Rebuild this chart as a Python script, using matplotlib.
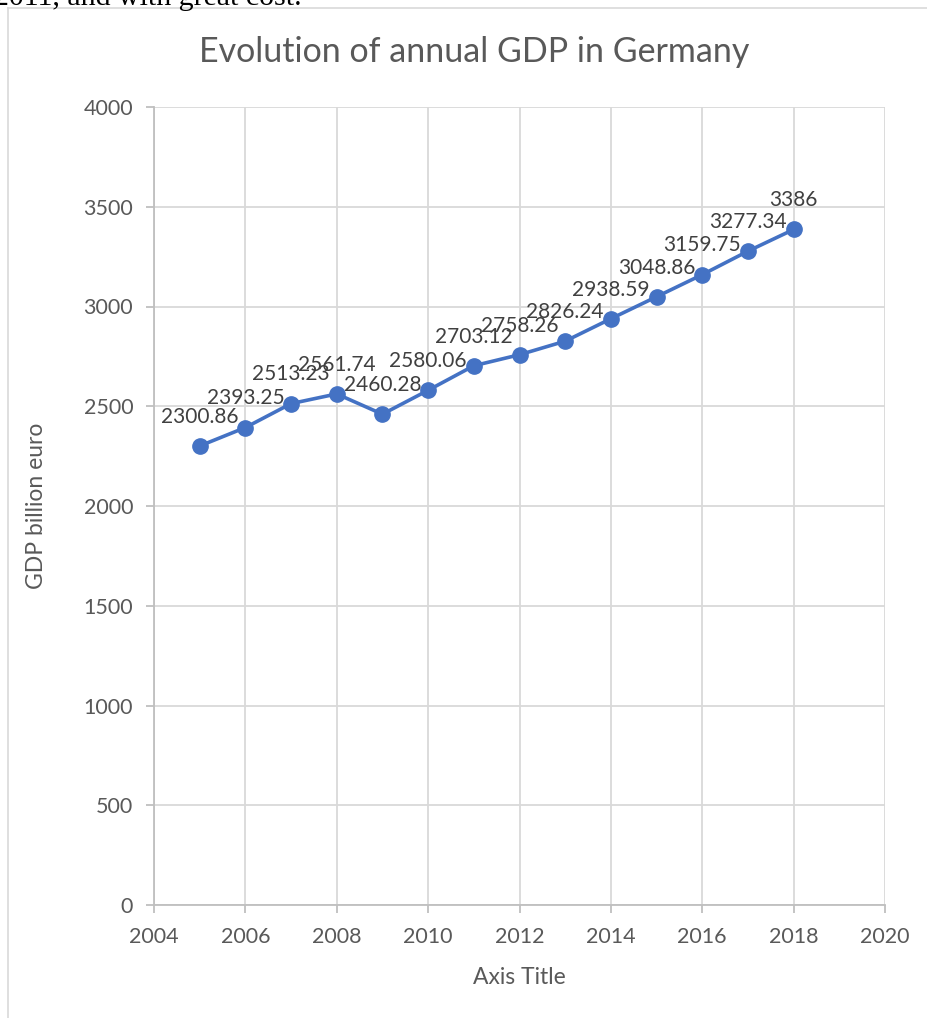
import matplotlib.pyplot as plt
from matplotlib.lines import Line2D

# Datos
anios = [2005, 2006, 2007, 2008, 2009, 2010, 2011, 2012, 2013, 2014, 2015, 2016, 2017, 2018]
pib = [2300.86, 2393.25, 2513.23, 2561.74, 2460.28, 2580.06, 2703.12, 2758.26,
       2826.24, 2938.59, 3048.86, 3159.75, 3277.34, 3386]
etiquetas = ['2300.86', '2393.25', '2513.23', '2561.74', '2460.28', '2580.06', '2703.12',
             '2758.26', '2826.24', '2938.59', '3048.86', '3159.75', '3277.34', '3386']
xticks = [2004, 2006, 2008, 2010, 2012, 2014, 2016, 2018, 2020]
yticks = [0, 500, 1000, 1500, 2000, 2500, 3000, 3500, 4000]

plt.rcParams['font.family'] = ['Lato', 'DejaVu Sans']

W, H = 928, 1018
fig = plt.figure(figsize=(W / 100, H / 100), dpi=100)
ax = fig.add_axes([154 / W, 1 - 905 / H, (885 - 154) / W, (905 - 107) / H])

gris_eje = '#bfbfbf'
gris_red = '#d9d9d9'
texto = '#595959'

ax.plot(anios, pib, color='#4472C4', lw=2.6, marker='o', markersize=11, zorder=3)
for x, y, t in zip(anios, pib, etiquetas):
    ax.annotate(t, (x, y), xytext=(0, 21), textcoords='offset points',
                ha='center', va='center', fontsize=15, color='#404040', zorder=4)

ax.set_xlim(2004, 2020)
ax.set_ylim(0, 4000)
ax.set_xticks(xticks)
ax.set_yticks(yticks)
ax.grid(True, color=gris_red, lw=1.3)
ax.set_axisbelow(True)
for s in ['top', 'right']:
    ax.spines[s].set_visible(False)
for s in ['left', 'bottom']:
    ax.spines[s].set_color(gris_eje)
    ax.spines[s].set_linewidth(1.3)
ax.tick_params(colors=gris_eje, labelcolor=texto, labelsize=15.5, length=6, width=1.3)
ax.tick_params(axis='y', pad=9)
ax.tick_params(axis='x', pad=10)

fig.text(474 / W, 1 - 52 / H, 'Evolution of annual GDP in Germany', fontsize=24.5,
         color=texto, ha='center', va='center')
ax.set_xlabel('Axis Title', fontsize=16.5, color=texto, labelpad=14)
ax.set_ylabel('GDP billion euro', fontsize=16.5, color=texto, labelpad=26)

# Marco del gráfico y texto del documento recortado
fig.add_artist(Line2D([8 / W, 8 / W], [0, 1 - 8 / H], color=gris_red, lw=1.2))
fig.add_artist(Line2D([8 / W, 1], [1 - 8 / H, 1 - 8 / H], color=gris_red, lw=1.2))
fig.text(-6 / W, 1 - 5 / H, '2011, and with great cost.', family='Liberation Serif',
         fontsize=21.5, va='baseline', ha='left', color='black')

fig.savefig('out.png', dpi=100)
